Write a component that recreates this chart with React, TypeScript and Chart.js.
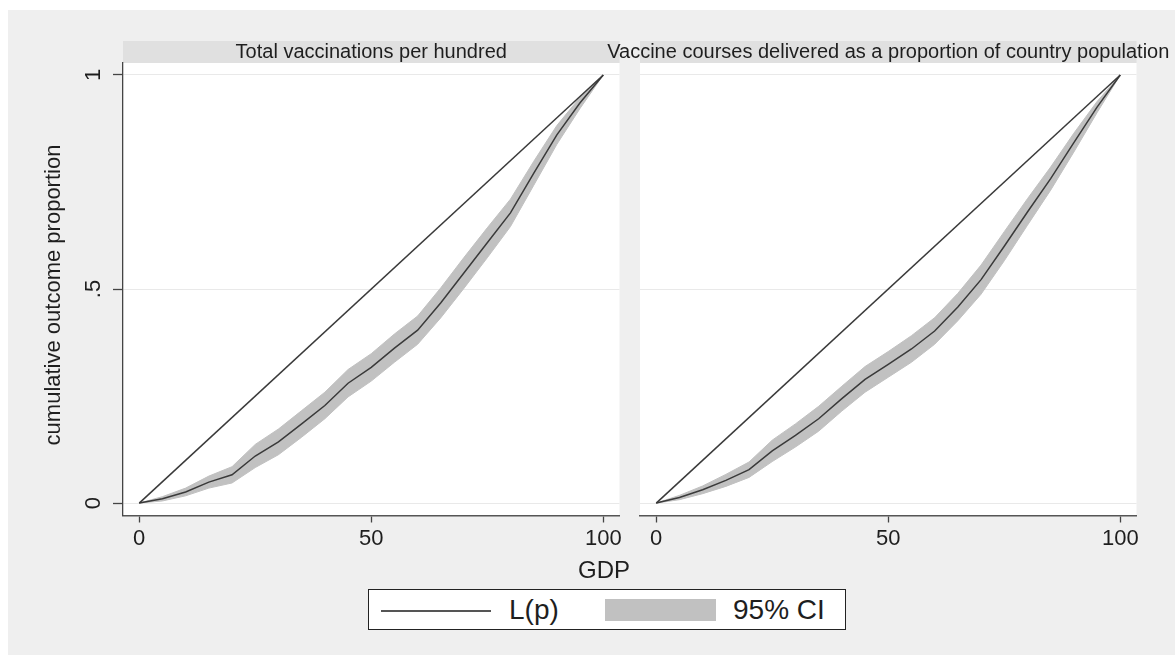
import React, { useEffect, useRef } from "react";
import { Chart, registerables } from "chart.js";

Chart.register(...registerables);

const FONT = '"Liberation Sans", Arial, Helvetica, sans-serif';
const TEXT = "#1e1e1e";

// ---- data ----
const pctPop = [0, 5, 10, 15, 20, 25, 30, 35, 40, 45, 50, 55, 60, 65, 70, 75, 80, 85, 90, 95, 100];
const equalityX = [0, 100];
const equalityY = [0, 1];

const vaccLp = [0, 0.010, 0.026, 0.049, 0.066, 0.110, 0.143, 0.185, 0.228, 0.280, 0.317, 0.362, 0.404, 0.468, 0.538, 0.608, 0.678, 0.770, 0.860, 0.935, 1];
const vaccHi = [0, 0.015, 0.035, 0.063, 0.085, 0.137, 0.173, 0.216, 0.259, 0.312, 0.349, 0.395, 0.437, 0.503, 0.574, 0.643, 0.710, 0.798, 0.882, 0.948, 1];
const vaccLo = [0, 0.005, 0.017, 0.035, 0.047, 0.083, 0.113, 0.154, 0.197, 0.248, 0.285, 0.329, 0.371, 0.433, 0.502, 0.573, 0.646, 0.742, 0.838, 0.922, 1];

const courseLp = [0, 0.013, 0.031, 0.053, 0.078, 0.122, 0.158, 0.197, 0.244, 0.289, 0.324, 0.360, 0.402, 0.458, 0.522, 0.600, 0.680, 0.758, 0.842, 0.925, 1];
const courseHi = [0, 0.018, 0.040, 0.067, 0.096, 0.147, 0.185, 0.226, 0.273, 0.319, 0.354, 0.391, 0.433, 0.490, 0.556, 0.634, 0.711, 0.785, 0.864, 0.938, 1];
const courseLo = [0, 0.008, 0.022, 0.039, 0.060, 0.097, 0.131, 0.168, 0.215, 0.259, 0.294, 0.329, 0.371, 0.426, 0.488, 0.566, 0.649, 0.731, 0.820, 0.912, 1];

const xTicks = [0, 50, 100];
const yTicks = [0, 0.5, 1];
const yTickLabels = ["0", ".5", "1"];

const panelTitles = [
  "Total vaccinations per hundred",
  "Vaccine courses delivered as a proportion of country population",
];
const yTitle = "cumulative outcome proportion";
const xTitle = "GDP";
const legendLabels = ["L(p)", "95% CI"];

const LINE_COLOR = "#3a3a3a";
const BAND_COLOR = "#c1c1c1";

type PanelProps = {
  title: string;
  lp: number[];
  hi: number[];
  lo: number[];
  showY: boolean;
  left: number;
  width: number;
  height: number;
  yWidth: number;
  padRight: number;
};

function Panel(props: PanelProps) {
  const ref = useRef<HTMLCanvasElement | null>(null);
  useEffect(() => {
    const canvas = ref.current;
    if (!canvas) return;
    const { title, lp, hi, lo, showY, yWidth, padRight } = props;

    const decor = {
      id: "decor",
      beforeDraw(chart: any) {
        const { ctx, chartArea: a } = chart;
        ctx.save();
        ctx.fillStyle = "#ffffff";
        ctx.fillRect(a.left, a.top, a.right - a.left, a.bottom - a.top);
        ctx.fillStyle = "#e0e0e0";
        ctx.fillRect(a.left, a.top - 22, a.right - a.left, 22);
        ctx.fillStyle = TEXT;
        ctx.font = `20px ${FONT}`;
        ctx.textAlign = "center";
        ctx.textBaseline = "middle";
        ctx.fillText(title, (a.left + a.right) / 2, a.top - 11);
        ctx.restore();
      },
      afterDraw(chart: any) {
        if (!showY) return;
        const { ctx } = chart;
        const ys = chart.scales.y;
        ctx.save();
        ctx.fillStyle = TEXT;
        ctx.textAlign = "center";
        ctx.textBaseline = "middle";
        ctx.font = `22px ${FONT}`;
        yTicks.forEach((v, i) => {
          ctx.save();
          ctx.translate(86, ys.getPixelForValue(v));
          ctx.rotate(-Math.PI / 2);
          ctx.fillText(yTickLabels[i], 0, 0);
          ctx.restore();
        });
        ctx.save();
        ctx.translate(45.5, 285);
        ctx.rotate(-Math.PI / 2);
        ctx.fillText(yTitle, 0, 0);
        ctx.restore();
        ctx.restore();
      },
    };

    const toPts = (ys: number[]) => pctPop.map((x, i) => ({ x, y: ys[i] }));

    const chart = new Chart(canvas, {
      type: "line",
      data: {
        datasets: [
          {
            label: "equality",
            data: equalityX.map((x, i) => ({ x, y: equalityY[i] })),
            borderColor: LINE_COLOR,
            borderWidth: 1.5,
            pointRadius: 0,
            fill: false,
            order: 0,
          },
          {
            label: legendLabels[0],
            data: toPts(lp),
            borderColor: LINE_COLOR,
            borderWidth: 1.5,
            pointRadius: 0,
            fill: false,
            order: 1,
          },
          {
            label: legendLabels[1],
            data: toPts(hi),
            borderColor: BAND_COLOR,
            backgroundColor: BAND_COLOR,
            borderWidth: 1,
            pointRadius: 0,
            fill: "+1",
            order: 2,
          },
          {
            label: "lower",
            data: toPts(lo),
            borderColor: BAND_COLOR,
            borderWidth: 1,
            pointRadius: 0,
            fill: false,
            order: 3,
          },
        ],
      },
      options: {
        animation: false,
        responsive: false,
        maintainAspectRatio: false,
        events: [],
        layout: { padding: { left: 0, top: 53, right: padRight, bottom: 0 } },
        plugins: {
          legend: { display: false },
          tooltip: { enabled: false },
          title: { display: false },
        },
        scales: {
          x: {
            type: "linear",
            min: -3.5,
            max: 103.5,
            afterBuildTicks: (s: any) => {
              s.ticks = xTicks.map((v) => ({ value: v }));
            },
            afterFit: (s: any) => {
              s.height = 54.5;
            },
            grid: {
              drawOnChartArea: false,
              drawTicks: true,
              tickLength: 7,
              tickColor: "#444",
              tickWidth: 1.3,
            },
            border: { display: true, color: "#555", width: 1.5 },
            ticks: {
              font: { family: FONT, size: 22 },
              color: TEXT,
              padding: 3,
              maxRotation: 0,
              minRotation: 0,
              autoSkip: false,
              callback: (v: any) => String(v),
            },
          },
          y: {
            type: "linear",
            min: -0.029,
            max: 1.028,
            afterBuildTicks: (s: any) => {
              s.ticks = yTicks.map((v) => ({ value: v }));
            },
            afterFit: (s: any) => {
              s.width = yWidth;
            },
            grid: {
              color: "#e9e9e9",
              lineWidth: 1,
              drawTicks: showY,
              tickLength: 10,
              tickColor: "#444",
              tickWidth: 1.3,
            },
            border: { display: showY, color: "#444", width: 1.3 },
            ticks: { display: false },
          },
        },
      },
      plugins: [decor],
    } as any);
    return () => chart.destroy();
  }, []);

  return (
    <canvas
      ref={ref}
      width={props.width}
      height={props.height}
      style={{
        position: "absolute",
        left: props.left,
        top: 0,
        width: props.width,
        height: props.height,
      }}
    />
  );
}

export default function App() {
  const textStyle: React.CSSProperties = {
    position: "absolute",
    fontFamily: FONT,
    color: TEXT,
    whiteSpace: "nowrap",
  };
  return (
    <div
      style={{
        position: "absolute",
        left: 8,
        top: 10,
        width: 1167,
        height: 645,
        background: "#efefef",
        overflow: "hidden",
      }}
    >
      <Panel
        title={panelTitles[0]}
        lp={vaccLp}
        hi={vaccHi}
        lo={vaccLo}
        showY={true}
        left={0}
        width={625}
        height={560}
        yWidth={115}
        padRight={13.5}
      />
      <Panel
        title={panelTitles[1]}
        lp={courseLp}
        hi={courseHi}
        lo={courseLo}
        showY={false}
        left={572}
        width={595}
        height={560}
        yWidth={60}
        padRight={38.5}
      />
      <div
        style={{
          ...textStyle,
          left: 496,
          top: 548,
          width: 200,
          textAlign: "center",
          fontSize: 24,
          lineHeight: "24px",
        }}
      >
        {xTitle}
      </div>
      <div
        style={{
          position: "absolute",
          left: 360,
          top: 579,
          width: 478,
          height: 41,
          boxSizing: "border-box",
          border: "1px solid #222",
          background: "#ffffff",
        }}
      >
        <div
          style={{
            position: "absolute",
            left: 12,
            top: 19.5,
            width: 110,
            height: 2,
            background: "#555",
          }}
        />
        <div style={{ ...textStyle, left: 140, top: 6, fontSize: 28, lineHeight: "28px" }}>
          {legendLabels[0]}
        </div>
        <div
          style={{
            position: "absolute",
            left: 236,
            top: 8.5,
            width: 111,
            height: 22.5,
            background: BAND_COLOR,
          }}
        />
        <div style={{ ...textStyle, left: 364, top: 6, fontSize: 28, lineHeight: "28px" }}>
          {legendLabels[1]}
        </div>
      </div>
    </div>
  );
}
